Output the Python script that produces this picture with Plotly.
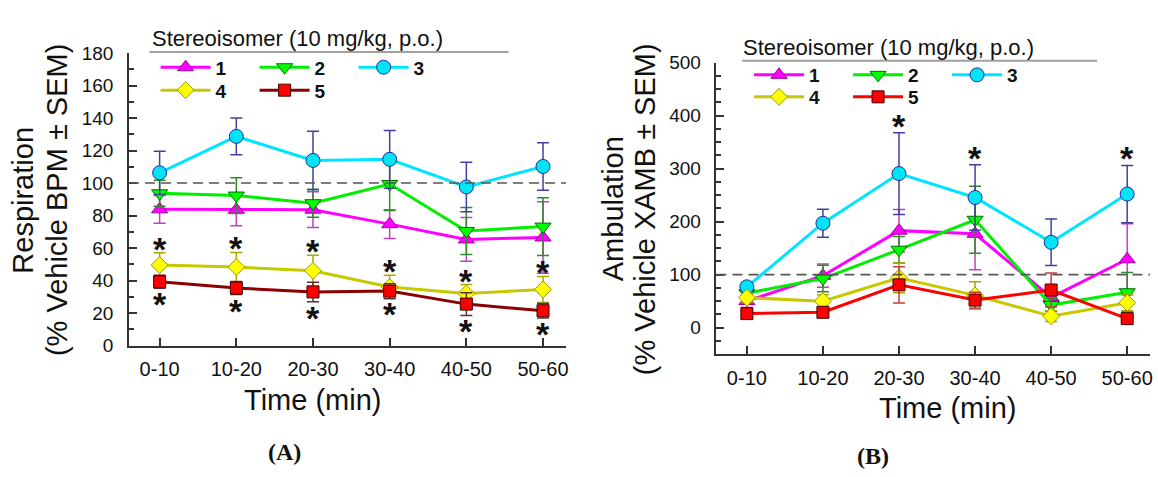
import plotly.graph_objects as go

# ---------------- data ----------------
categories = ["0-10", "10-20", "20-30", "30-40", "40-50", "50-60"]
series_names = ["1", "2", "3", "4", "5"]

# Panel A: Respiration (% vehicle BPM), mean and SEM
resp_1 = [83.8, 83.5, 83.6, 74.7, 65.3, 66.5]
resp_1_sem = [8.5, 9.8, 11.0, 8.8, 13.5, 22.0]
resp_2 = [93.7, 92.3, 87.6, 99.4, 70.5, 73.2]
resp_2_sem = [8.0, 11.0, 8.6, 16.3, 14.5, 17.8]
resp_3 = [106.3, 128.7, 113.9, 114.6, 97.6, 110.2]
resp_3_sem = [13.3, 11.3, 18.0, 17.8, 15.2, 14.6]
resp_4 = [49.5, 48.3, 46.0, 36.0, 32.0, 34.5]
resp_4_sem = [7.6, 9.0, 9.5, 7.2, 5.5, 8.0]
resp_5 = [39.3, 35.4, 33.0, 33.5, 25.5, 21.4]
resp_5_sem = [4.0, 4.0, 6.0, 4.5, 7.0, 4.5]

# Panel B: Ambulation (% vehicle XAMB), mean and SEM
amb_1 = [50.0, 98.0, 183.0, 177.0, 57.0, 129.0]
amb_1_sem = [12.0, 22.0, 40.0, 68.0, 15.0, 67.0]
amb_2 = [65.0, 92.6, 147.0, 203.5, 42.7, 66.8]
amb_2_sem = [8.0, 25.0, 25.0, 63.0, 12.0, 37.0]
amb_3 = [77.0, 197.0, 290.6, 245.5, 161.0, 252.0]
amb_3_sem = [8.0, 26.5, 77.0, 62.0, 44.0, 54.0]
amb_4 = [56.5, 50.0, 94.0, 60.8, 21.7, 47.0]
amb_4_sem = [8.0, 12.0, 28.0, 26.0, 10.0, 15.0]
amb_5 = [26.5, 29.0, 80.7, 52.0, 71.0, 17.0]
amb_5_sem = [6.0, 6.0, 34.0, 15.0, 32.0, 6.0]

# significance markers (*)
sig_resp_4_above = [True, True, True, True, True, True]
sig_resp_5_below = [True, True, True, True, True, True]
sig_amb_3_above = [False, False, True, True, False, True]

vehicle_level = 100
legend_title = "Stereoisomer (10 mg/kg, p.o.)"
ytitle_A = ["Respiration", "(% Vehicle BPM ± SEM)"]
ytitle_B = ["Ambulation", "(% Vehicle XAMB ± SEM)"]
xtitle = "Time (min)"

# ---------------- styles ----------------
FONT = "Liberation Sans, Arial, sans-serif"
symbols = ["triangle-up", "triangle-down", "circle", "diamond", "square"]
msizes = [14, 14, 14, 13, 12]
fills = ["#ff00ff", "#00ff00", "#00e5f5", "#ffff00", "#ff0000"]
outlines = ["#a000a0", "#007000", "#2a2aa0", "#9a9a00", "#400000"]
lines_A = ["#ff00ff", "#00ee00", "#00e5ff", "#c8c800", "#8b0000"]
lines_B = ["#ff00ff", "#00ee00", "#00e5ff", "#c8c800", "#ff0000"]
err_A = ["#c040c0", "#2e8b2e", "#4040a0", "#a8a800", "#603030"]
err_B = ["#c040c0", "#2e8b2e", "#4040a0", "#a8a800", "#c04040"]

W, H = 1158, 477


def px_x(p):
    return p / W


def px_y(p):
    return 1 - p / H


fig = go.Figure()

resp_means = [resp_1, resp_2, resp_3, resp_4, resp_5]
resp_sems = [resp_1_sem, resp_2_sem, resp_3_sem, resp_4_sem, resp_5_sem]
amb_means = [amb_1, amb_2, amb_3, amb_4, amb_5]
amb_sems = [amb_1_sem, amb_2_sem, amb_3_sem, amb_4_sem, amb_5_sem]

legA = ["legend", "legend", "legend", "legend2", "legend2"]
legB = ["legend3", "legend3", "legend3", "legend4", "legend4"]

for i, name in enumerate(series_names):
    fig.add_trace(go.Scatter(
        x=categories, y=resp_means[i], name=name, mode="lines+markers",
        line=dict(color=lines_A[i], width=3),
        marker=dict(symbol=symbols[i], size=msizes[i], color=fills[i],
                    line=dict(color=outlines[i], width=1)),
        error_y=dict(type="data", array=resp_sems[i], color=err_A[i],
                     thickness=1.5, width=6),
        xaxis="x", yaxis="y", legend=legA[i]))

for i, name in enumerate(series_names):
    fig.add_trace(go.Scatter(
        x=categories, y=amb_means[i], name=name, mode="lines+markers",
        line=dict(color=lines_B[i], width=3),
        marker=dict(symbol=symbols[i], size=msizes[i], color=fills[i],
                    line=dict(color=outlines[i], width=1)),
        error_y=dict(type="data", array=amb_sems[i], color=err_B[i],
                     thickness=1.5, width=6),
        xaxis="x2", yaxis="y2", legend=legB[i]))

# asterisks
star_font = dict(family=FONT, size=34, color="#111", weight="bold")
annotations = []
for c, s, m, e in zip(categories, sig_resp_4_above, resp_4, resp_4_sem):
    if s:
        annotations.append(dict(x=c, y=m + e, xref="x", yref="y", text="*",
                                showarrow=False, yanchor="middle", yshift=4,
                                font=star_font))
for c, s, m, e in zip(categories, sig_resp_5_below, resp_5, resp_5_sem):
    if s:
        annotations.append(dict(x=c, y=m - e, xref="x", yref="y", text="*",
                                showarrow=False, yanchor="middle", yshift=-16,
                                font=star_font))
for c, s, m, e in zip(categories, sig_amb_3_above, amb_3, amb_3_sem):
    if s:
        annotations.append(dict(x=c, y=m + e, xref="x2", yref="y2", text="*",
                                showarrow=False, yanchor="middle", yshift=7,
                                font=star_font))

# legend titles
for (tx, ty) in [(150, 30), (743, 39)]:
    annotations.append(dict(x=px_x(tx), y=px_y(ty), xref="paper", yref="paper",
                            text=legend_title, showarrow=False, xanchor="left",
                            yanchor="middle",
                            font=dict(family=FONT, size=22, color="#111")))
# x-axis titles
for (tx, ty) in [(313, 408), (950, 416)]:
    annotations.append(dict(x=px_x(tx), y=px_y(ty), xref="paper", yref="paper",
                            text=xtitle, showarrow=False, xanchor="center",
                            yanchor="middle",
                            font=dict(family=FONT, size=29, color="#111")))
# y-axis titles (two tightly spaced lines)
yt_font = dict(family=FONT, size=29, color="#111")
for lines, xs, yc in [(ytitle_A, (23.5, 57), 199), (ytitle_B, (614, 647), 208)]:
    for txt, xx in zip(lines, xs):
        annotations.append(dict(x=px_x(xx), y=px_y(yc), xref="paper",
                                yref="paper", text=txt, showarrow=False,
                                textangle=-90, xanchor="center",
                                yanchor="middle", font=yt_font))
# panel labels
for (lab, tx, ty) in [("(A)", 285, 462), ("(B)", 875, 467)]:
    annotations.append(dict(x=px_x(tx), y=px_y(ty), xref="paper", yref="paper",
                            text="<b>" + lab + "</b>", showarrow=False,
                            xanchor="center", yanchor="middle",
                            font=dict(family="Liberation Serif, Times New Roman, serif",
                                      size=24, color="#111")))

shapes = []
for xr, yr in [("x domain", "y"), ("x2 domain", "y2")]:
    shapes.append(dict(type="line", xref=xr, yref=yr, x0=0, x1=1,
                       y0=vehicle_level, y1=vehicle_level,
                       line=dict(color="#555", width=1.6, dash="10px,6px")))
for (x0, x1, yy) in [(150, 510, 44), (744, 1100, 53)]:
    shapes.append(dict(type="line", xref="paper", yref="paper",
                       x0=px_x(x0), x1=px_x(x1), y0=px_y(yy), y1=px_y(yy),
                       line=dict(color="#a0a0a0", width=2)))

axis_common = dict(showline=True, linecolor="#333", linewidth=1.5,
                   showgrid=False, zeroline=False, ticks="inside",
                   tickcolor="#333", tickwidth=1.5, ticklen=8)

xa = dict(axis_common, type="category", range=[-0.4, 5.3],
          tickfont=dict(family=FONT, size=20, color="#111"),
          ticklabelstandoff=5)
ya_font = dict(family=FONT, size=19, color="#111")

leg_common = dict(orientation="h", xanchor="left", yanchor="middle",
                  bgcolor="rgba(0,0,0,0)", itemwidth=50, entrywidth=34,
                  font=dict(family=FONT, size=19, color="#111", weight="bold"))

fig.update_layout(
    width=W, height=H, margin=dict(l=0, r=0, t=0, b=0),
    paper_bgcolor="white", plot_bgcolor="white",
    xaxis=dict(xa, domain=[px_x(129.3), px_x(567.5)], anchor="y"),
    yaxis=dict(axis_common, domain=[px_y(351), px_y(45)], anchor="x",
               range=[0, 180], tick0=0, dtick=20, tickfont=ya_font,
               ticklabelstandoff=10,
               minor=dict(dtick=10, ticks="inside", ticklen=5,
                          tickcolor="#333", tickwidth=1.5)),
    xaxis2=dict(xa, domain=[px_x(718.3), px_x(1153)], anchor="y2"),
    yaxis2=dict(axis_common, domain=[px_y(360), px_y(55)], anchor="x2",
                range=[-50, 500], tick0=0, dtick=100, tickfont=ya_font,
                ticklabelstandoff=10,
                minor=dict(dtick=25, ticks="inside", ticklen=5,
                           tickcolor="#333", tickwidth=1.5)),
    legend=dict(leg_common, x=px_x(156), y=px_y(60)),
    legend2=dict(leg_common, x=px_x(156), y=px_y(84)),
    legend3=dict(leg_common, x=px_x(751), y=px_y(68)),
    legend4=dict(leg_common, x=px_x(751), y=px_y(91)),
    annotations=annotations, shapes=shapes, showlegend=True,
)

fig.write_html(
    "out.html",
    config={"displayModeBar": False},
    post_script="document.body.style.margin='0px';"
                "document.body.style.overflow='hidden';",
)
